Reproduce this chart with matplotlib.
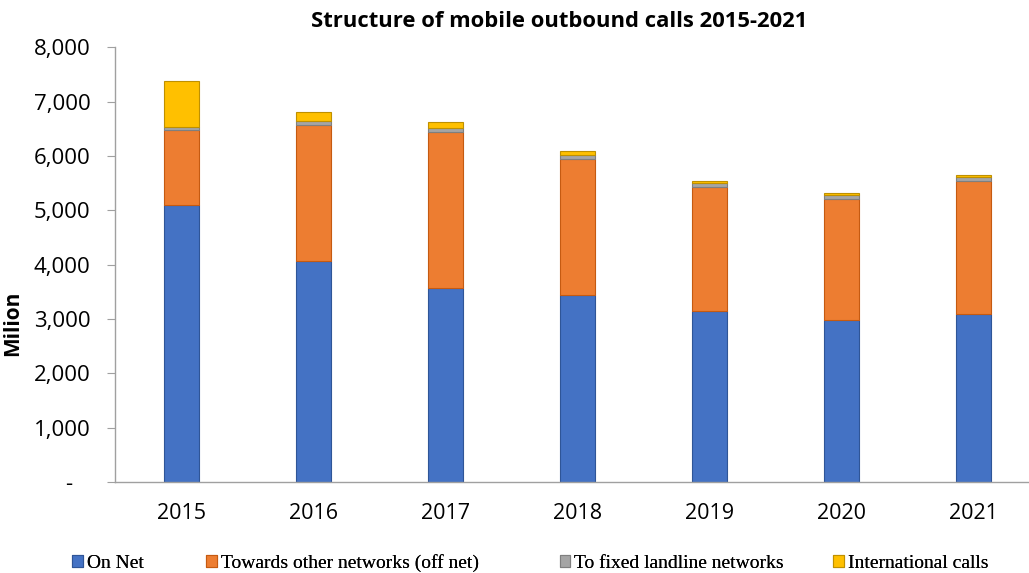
import matplotlib.pyplot as plt
import numpy as np
from matplotlib.ticker import FuncFormatter
from matplotlib.patches import Patch

years = ["2015", "2016", "2017", "2018", "2019", "2020", "2021"]
on_net = [5105, 4073, 3575, 3446, 3139, 2980, 3091]
off_net = [1364, 2494, 2870, 2501, 2289, 2233, 2442]
fixed = [68, 73, 67, 74, 79, 68, 74]
international = [848, 161, 117, 67, 31, 31, 36]

series = [
    ("On Net", on_net, "#4472C4", "#2F5597"),
    ("Towards other networks (off net)", off_net, "#ED7D31", "#C55A11"),
    ("To fixed landline networks", fixed, "#A5A5A5", "#7F7F7F"),
    ("International calls", international, "#FFC000", "#BF9000"),
]

fig = plt.figure(figsize=(10.29, 5.73), dpi=100)
# plot area runs slightly past the right edge of the figure
ax = fig.add_axes([0.1122, 0.1588, 0.898, 0.7587])

x = np.arange(len(years))
bottom = np.zeros(len(years))
for name, vals, color, edge in series:
    ax.bar(x, vals, width=0.26, bottom=bottom, color=color, edgecolor=edge,
           linewidth=0.8, label=name, zorder=2)
    bottom += np.array(vals)

ax.set_xlim(-0.5, len(years) - 0.5)
ax.set_ylim(0, 8000)
ax.set_yticks(np.arange(0, 8001, 1000))
# accounting style: zero shown as a dash set in from the right
ax.yaxis.set_major_formatter(FuncFormatter(lambda v, p: "-   " if v == 0 else f"{v:,.0f}"))
ax.set_xticks(x)
ax.set_xticklabels(years)

for s in ["top", "right"]:
    ax.spines[s].set_visible(False)
for s in ["left", "bottom"]:
    ax.spines[s].set_color("#A0A0A0")
    ax.spines[s].set_linewidth(1.0)

ax.tick_params(axis="y", direction="out", length=6, color="#A0A0A0", pad=12,
               labelsize=16)
ax.tick_params(axis="x", length=0, pad=15, labelsize=15.5)
for lab in ax.get_xticklabels() + ax.get_yticklabels():
    lab.set_family("Open Sans")

ax.set_ylabel("Milion", fontsize=15, fontweight="bold", family="Open Sans")
ax.yaxis.set_label_coords(-0.100, 0.366)
fig.text(0.543, 0.962, "Structure of mobile outbound calls 2015-2021",
         ha="center", va="center", fontsize=15.8, fontweight="bold", family="Open Sans")

# legend entries spread along the bottom
legend_x = [0.070, 0.2002, 0.544, 0.8095]
for (name, vals, color, edge), lx in zip(series, legend_x):
    h = Patch(facecolor=color, edgecolor=edge, linewidth=0.8)
    lg = fig.legend([h], [name], loc="center left", bbox_to_anchor=(lx, 0.017),
                    frameon=False, prop={"family": "Liberation Serif", "size": 14},
                    handlelength=0.55, handleheight=0.55, handletextpad=0.2,
                    borderaxespad=0, borderpad=0)
    fig.add_artist(lg)

fig.savefig("out.png", dpi=100)
